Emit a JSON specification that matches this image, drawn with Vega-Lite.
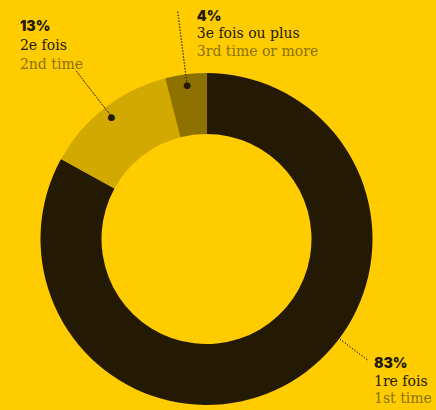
{
  "$schema": "https://vega.github.io/schema/vega-lite/v6.json",
  "width": 413,
  "height": 340,
  "autosize": "none",
  "padding": {"left": 0, "top": 69, "right": 23, "bottom": 1},
  "background": "#ffcc00",
  "config": {"view": {"stroke": null}},
  "data": {
    "values": [
      {"rang": 1, "part": 83, "pct": "83%", "fr": "1re fois", "en": "1st time"},
      {"rang": 2, "part": 13, "pct": "13%", "fr": "2e fois", "en": "2nd time"},
      {"rang": 3, "part": 4, "pct": "4%", "fr": "3e fois ou plus", "en": "3rd time or more"}
    ]
  },
  "layer": [
    {
      "mark": {"type": "arc", "innerRadius": 105, "outerRadius": 166},
      "encoding": {
        "theta": {"field": "part", "type": "quantitative", "stack": true},
        "order": {"field": "rang", "type": "ordinal"},
        "color": {
          "field": "fr", "type": "nominal", "legend": null,
          "scale": {"domain": ["1re fois", "2e fois", "3e fois ou plus"], "range": ["#241a03", "#d2a900", "#8e7200"]}
        }
      }
    },
    {
      "mark": {"type": "arc", "innerRadius": 155, "outerRadius": 213, "padAngle": 3, "fillOpacity": 0, "stroke": "#241a03", "strokeWidth": 1, "strokeDash": [1, 2]},
      "encoding": {
        "theta": {"field": "part", "type": "quantitative", "stack": true},
        "order": {"field": "rang", "type": "ordinal"},
        "strokeOpacity": {"condition": {"test": "datum.rang === 2", "value": 1}, "value": 0}
      }
    },
    {
      "mark": {"type": "arc", "innerRadius": 155, "outerRadius": 229, "padAngle": 3, "fillOpacity": 0, "stroke": "#241a03", "strokeWidth": 1, "strokeDash": [1, 2]},
      "encoding": {
        "theta": {"field": "part", "type": "quantitative", "stack": true},
        "order": {"field": "rang", "type": "ordinal"},
        "strokeOpacity": {"condition": {"test": "datum.rang === 3", "value": 1}, "value": 0}
      }
    },
    {
      "transform": [{"filter": "datum.rang === 1"}],
      "mark": {"type": "arc", "theta": 2.2148, "theta2": 2.2148, "innerRadius": 160, "outerRadius": 201, "fillOpacity": 0, "stroke": "#241a03", "strokeWidth": 1, "strokeDash": [1, 2]},
      "encoding": {}
    },
    {
      "mark": {"type": "text", "radius": 155, "align": "center", "baseline": "middle", "font": "DejaVu Sans", "fontSize": 9, "color": "#241a03"},
      "encoding": {
        "theta": {"field": "part", "type": "quantitative", "stack": true},
        "order": {"field": "rang", "type": "ordinal"},
        "text": {"value": "●"}
      }
    },
    {
      "mark": {"type": "text", "radius": 213, "dx": -56, "dy": -40, "align": "left", "baseline": "alphabetic", "font": "Inter", "fontWeight": 900, "fontSize": 14, "color": "#241a03"},
      "encoding": {
        "theta": {"field": "part", "type": "quantitative", "stack": true},
        "order": {"field": "rang", "type": "ordinal"},
        "text": {"condition": {"test": "datum.rang === 2", "field": "pct"}, "value": ""}
      }
    },
    {
      "mark": {"type": "text", "radius": 213, "dx": -56, "dy": -21, "align": "left", "baseline": "alphabetic", "font": "DejaVu Serif", "fontSize": 14, "color": "#241a03"},
      "encoding": {
        "theta": {"field": "part", "type": "quantitative", "stack": true},
        "order": {"field": "rang", "type": "ordinal"},
        "text": {"condition": {"test": "datum.rang === 2", "field": "fr"}, "value": ""}
      }
    },
    {
      "mark": {"type": "text", "radius": 213, "dx": -56, "dy": -2, "align": "left", "baseline": "alphabetic", "font": "DejaVu Serif", "fontSize": 14, "color": "#8b7108"},
      "encoding": {
        "theta": {"field": "part", "type": "quantitative", "stack": true},
        "order": {"field": "rang", "type": "ordinal"},
        "text": {"condition": {"test": "datum.rang === 2", "field": "en"}, "value": ""}
      }
    },
    {
      "mark": {"type": "text", "radius": 229, "dx": 19, "dy": 9, "align": "left", "baseline": "alphabetic", "font": "Inter", "fontWeight": 900, "fontSize": 14, "color": "#241a03"},
      "encoding": {
        "theta": {"field": "part", "type": "quantitative", "stack": true},
        "order": {"field": "rang", "type": "ordinal"},
        "text": {"condition": {"test": "datum.rang === 3", "field": "pct"}, "value": ""}
      }
    },
    {
      "mark": {"type": "text", "radius": 229, "dx": 19, "dy": 26, "align": "left", "baseline": "alphabetic", "font": "DejaVu Serif", "fontSize": 14, "color": "#241a03"},
      "encoding": {
        "theta": {"field": "part", "type": "quantitative", "stack": true},
        "order": {"field": "rang", "type": "ordinal"},
        "text": {"condition": {"test": "datum.rang === 3", "field": "fr"}, "value": ""}
      }
    },
    {
      "mark": {"type": "text", "radius": 229, "dx": 19, "dy": 44, "align": "left", "baseline": "alphabetic", "font": "DejaVu Serif", "fontSize": 14, "color": "#8b7108"},
      "encoding": {
        "theta": {"field": "part", "type": "quantitative", "stack": true},
        "order": {"field": "rang", "type": "ordinal"},
        "text": {"condition": {"test": "datum.rang === 3", "field": "en"}, "value": ""}
      }
    },
    {
      "mark": {"type": "text", "radius": 166, "dx": 83, "dy": -14, "align": "left", "baseline": "alphabetic", "font": "Inter", "fontWeight": 900, "fontSize": 14, "color": "#241a03"},
      "encoding": {
        "theta": {"field": "part", "type": "quantitative", "stack": true},
        "order": {"field": "rang", "type": "ordinal"},
        "text": {"condition": {"test": "datum.rang === 1", "field": "pct"}, "value": ""}
      }
    },
    {
      "mark": {"type": "text", "radius": 166, "dx": 83, "dy": 4, "align": "left", "baseline": "alphabetic", "font": "DejaVu Serif", "fontSize": 14, "color": "#241a03"},
      "encoding": {
        "theta": {"field": "part", "type": "quantitative", "stack": true},
        "order": {"field": "rang", "type": "ordinal"},
        "text": {"condition": {"test": "datum.rang === 1", "field": "fr"}, "value": ""}
      }
    },
    {
      "mark": {"type": "text", "radius": 166, "dx": 83, "dy": 21, "align": "left", "baseline": "alphabetic", "font": "DejaVu Serif", "fontSize": 14, "color": "#8b7108"},
      "encoding": {
        "theta": {"field": "part", "type": "quantitative", "stack": true},
        "order": {"field": "rang", "type": "ordinal"},
        "text": {"condition": {"test": "datum.rang === 1", "field": "en"}, "value": ""}
      }
    }
  ]
}
